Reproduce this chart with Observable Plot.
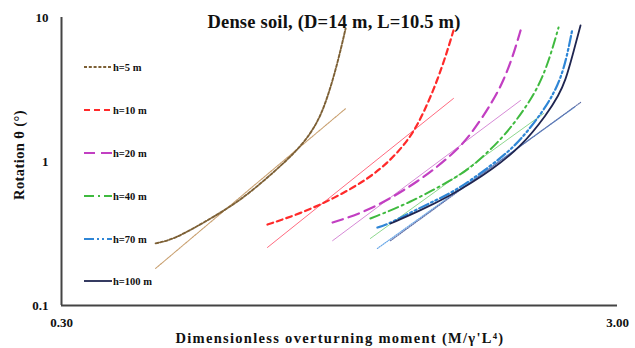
<!DOCTYPE html>
<html>
<head>
<meta charset="utf-8">
<script src="https://cdn.jsdelivr.net/npm/d3@7"></script>
<script src="https://cdn.jsdelivr.net/npm/@observablehq/plot@0.6"></script>
<style>
  html, body { margin: 0; padding: 0; background: #fff; }
  #wrap { position: relative; width: 635px; height: 348px; }
  #wrap svg { display: block; }
  #overlay { position: absolute; left: 0; top: 0; pointer-events: none; }
</style>
</head>
<body>
<div id="wrap"></div>
<script>
// ---- data ----
const seriesNames = ["h=5 m", "h=10 m", "h=20 m", "h=40 m", "h=70 m", "h=100 m"];

// computed curves (dashed / solid)
const h5CurveX   = [0.443, 0.477, 0.549, 0.630, 0.722, 0.807, 0.866, 0.903, 0.941, 0.973];
const h5CurveY   = [0.270, 0.287, 0.389, 0.536, 0.839, 1.251, 1.837, 2.783, 4.80, 8.39];
const h10CurveX  = [0.704, 0.807, 0.926, 1.065, 1.172, 1.273, 1.343, 1.423, 1.484, 1.521];
const h10CurveY  = [0.365, 0.435, 0.553, 0.750, 1.016, 1.468, 2.154, 3.65, 5.91, 8.13];
const h20CurveX  = [0.922, 1.078, 1.327, 1.521, 1.632, 1.795, 1.871, 1.942, 2.008];
const h20CurveY  = [0.377, 0.457, 0.738, 1.137, 1.517, 2.655, 3.65, 5.27, 8.13];
const h40CurveX  = [1.078, 1.273, 1.502, 1.632, 1.871, 2.033, 2.154, 2.254, 2.350];
const h40CurveY  = [0.402, 0.519, 0.738, 0.894, 1.468, 2.26, 3.21, 4.87, 8.52];
const h70CurveX  = [1.110, 1.148, 1.327, 1.502, 1.632, 1.848, 2.008, 2.209, 2.302, 2.369, 2.429, 2.490];
const h70CurveY  = [0.348, 0.359, 0.480, 0.599, 0.738, 1.049, 1.400, 2.26, 2.966, 3.77, 5.19, 8.39];
const h100CurveX = [1.172, 1.327, 1.502, 1.632, 1.773, 2.008, 2.245, 2.350, 2.419, 2.490, 2.574];
const h100CurveY = [0.371, 0.457, 0.581, 0.703, 0.866, 1.251, 2.154, 2.873, 3.65, 5.44, 8.80];

// thin fitted lines
const h5LineX   = [0.443, 0.656, 0.973];
const h5LineY   = [0.181, 0.649, 2.33];
const h10LineX  = [0.704, 1.521];
const h10LineY  = [0.253, 2.74];
const h20LineX  = [0.922, 2.008];
const h20LineY  = [0.282, 2.655];
const h40LineX  = [1.078, 2.209];
const h40LineY  = [0.292, 2.154];
const h70LineX  = [1.110, 2.521];
const h70LineY  = [0.249, 2.41];
const h100LineX = [1.172, 2.574];
const h100LineY = [0.282, 2.57];

const xTicks = [0.3, 3];
const xTickLabels = ["0.30", "3.00"];
const yTicks = [0.1, 1, 10];
const yTickLabels = ["0.1", "1", "10"];

const titleText = "Dense soil, (D=14 m, L=10.5 m)";
const xLabelText = "Dimensionless overturning moment  (M/\u03B3'L\u2074)";
const yLabelText = "Rotation \u03B8 (\u00B0)";

// ---- styles ----
const curveStyles = [
  {stroke: "#7d6035", width: 1.9, dash: "3,1.8"},
  {stroke: "#ff2a2a", width: 2.2, dash: "6,4"},
  {stroke: "#c23fc2", width: 2.2, dash: "11,6"},
  {stroke: "#3fba3f", width: 2.0, dash: "10,4,2,4"},
  {stroke: "#2f86d6", width: 2.2, dash: "10,3,2,3,2,3"},
  {stroke: "#1f2550", width: 1.8, dash: null}
];
const lineStyles = [
  {stroke: "#c9a070", width: 1.1, dash: "2,1"},
  {stroke: "#ff6b80", width: 1.0, dash: null},
  {stroke: "#d68ad6", width: 1.0, dash: null},
  {stroke: "#8fd88f", width: 1.0, dash: null},
  {stroke: "#6aa8e8", width: 1.2, dash: "1,1.3"},
  {stroke: "#6070a8", width: 1.2, dash: "1,1.3"}
];

const curvesX = [h5CurveX, h10CurveX, h20CurveX, h40CurveX, h70CurveX, h100CurveX];
const curvesY = [h5CurveY, h10CurveY, h20CurveY, h40CurveY, h70CurveY, h100CurveY];
const linesX = [h5LineX, h10LineX, h20LineX, h40LineX, h70LineX, h100LineX];
const linesY = [h5LineY, h10LineY, h20LineY, h40LineY, h70LineY, h100LineY];

const toRows = (xs, ys) => xs.map((x, i) => ({x, y: ys[i]}));

const lineMarks = [];
seriesNames.forEach((name, i) => {
  const ls = lineStyles[i];
  lineMarks.push(Plot.line(toRows(linesX[i], linesY[i]), {
    x: "x", y: "y", stroke: ls.stroke, strokeWidth: ls.width,
    strokeDasharray: ls.dash || undefined, curve: "linear"
  }));
});
seriesNames.forEach((name, i) => {
  const cs = curveStyles[i];
  lineMarks.push(Plot.line(toRows(curvesX[i], curvesY[i]), {
    x: "x", y: "y", stroke: cs.stroke, strokeWidth: cs.width,
    strokeDasharray: cs.dash || undefined, curve: "basis"
  }));
});

const W = 635, H = 348;
const mL = 61, mR = 18, mT = 17, mB = 43;
const font = "'Liberation Serif', 'Times New Roman', serif";

const chart = Plot.plot({
  width: W, height: H,
  marginLeft: mL, marginRight: mR, marginTop: mT, marginBottom: mB,
  style: {fontFamily: font, fontWeight: "bold", color: "#111", background: "#fff"},
  x: {type: "log", domain: [0.3, 3]},
  y: {type: "log", domain: [0.1, 10]},
  marks: [
    Plot.axisX({ticks: xTicks, tickFormat: (d) => xTickLabels[xTicks.indexOf(d)], tickSize: 0, tickPadding: 12, fontSize: 13, label: null}),
    Plot.axisY({ticks: yTicks, tickFormat: (d) => yTickLabels[yTicks.indexOf(d)], tickSize: 0, tickPadding: 13, fontSize: 13, label: null}),
    ...lineMarks,
    Plot.ruleX([0.3], {stroke: "#444", strokeWidth: 2}),
    Plot.ruleY([0.1], {stroke: "#444", strokeWidth: 2})
  ]
});

const wrap = document.getElementById("wrap");
wrap.appendChild(chart);

// ---- overlay: title, axis titles, legend ----
const ov = d3.select(wrap).append("svg")
  .attr("id", "overlay").attr("width", W).attr("height", H)
  .style("font-family", font).style("font-weight", "bold").attr("fill", "#111");

ov.append("text").attr("x", 334).attr("y", 28).attr("text-anchor", "middle")
  .style("font-size", "18.5px").style("letter-spacing", "0.2px").text(titleText);

ov.append("text").attr("x", 340).attr("y", 343).attr("text-anchor", "middle")
  .style("font-size", "14.5px").style("letter-spacing", "1.3px").text(xLabelText);

ov.append("text").attr("transform", "translate(24,155) rotate(-90)").attr("text-anchor", "middle")
  .style("font-size", "14.5px").style("letter-spacing", "0.4px").text(yLabelText);

const legendRows = [67, 110, 153, 196, 239, 281];
seriesNames.forEach((name, i) => {
  const cs = curveStyles[i];
  const y = legendRows[i];
  ov.append("line").attr("x1", 84).attr("x2", 112).attr("y1", y).attr("y2", y)
    .attr("stroke", cs.stroke).attr("stroke-width", Math.min(cs.width, 1.8))
    .attr("stroke-dasharray", cs.dash);
  ov.append("text").attr("x", 113).attr("y", y + 3.5).style("font-size", "10.5px").text(name);
});
</script>
</body>
</html>
